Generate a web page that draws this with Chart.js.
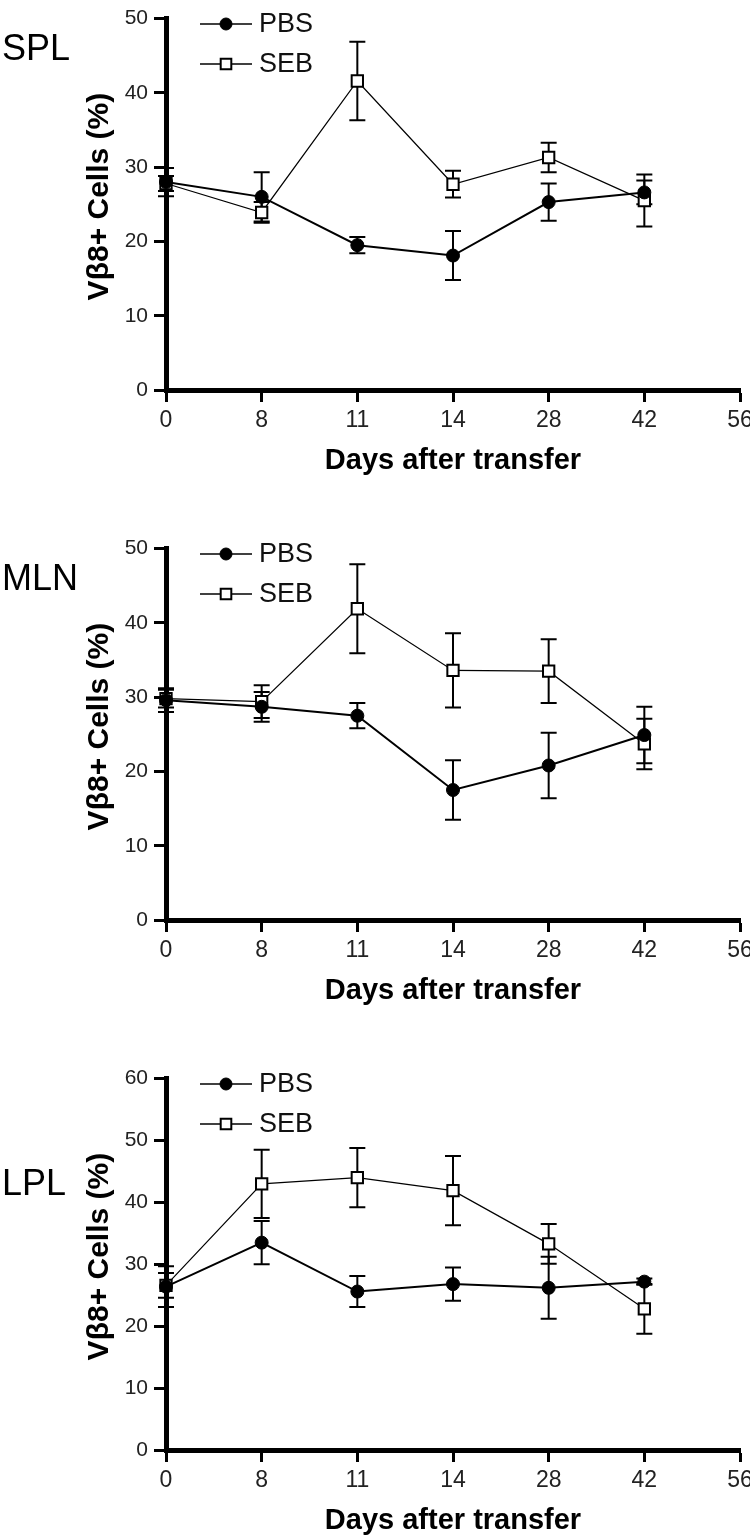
<!DOCTYPE html>
<html>
<head>
<meta charset="utf-8">
<script src="https://cdn.jsdelivr.net/npm/chart.js"></script>
<style>
    body { margin: 0; background: #fff; }
    .wrap { position: relative; width: 750px; height: 1539px; overflow: hidden; }
    canvas { position: absolute; left: 0; }
</style>
</head>
<body>
<div class="wrap">
    <canvas id="chart-1" width="750" height="480" style="top:0px"></canvas>
    <canvas id="chart-2" width="750" height="480" style="top:530px"></canvas>
    <canvas id="chart-3" width="750" height="480" style="top:1060px"></canvas>
</div>
<script>
const days = ['0', '8', '11', '14', '28', '42', '56']

// SPL
const splPbs = [28.0, 26.0, 19.5, 18.1, 25.3, 26.6]
const splPbsErr = [1.9, 3.3, 1.1, 3.3, 2.5, 1.6]
const splSeb = [27.8, 23.9, 41.6, 27.7, 31.3, 25.5]
const splSebErr = [1.0, 1.4, 5.3, 1.8, 2.0, 3.5]

// MLN
const mlnPbs = [29.6, 28.7, 27.5, 17.5, 20.8, 24.9]
const mlnPbsErr = [1.6, 2.0, 1.7, 4.0, 4.4, 3.8]
const mlnSeb = [29.8, 29.4, 41.9, 33.6, 33.5, 23.7]
const mlnSebErr = [1.2, 2.2, 6.0, 5.0, 4.3, 3.4]

// LPL
const lplPbs = [26.4, 33.5, 25.6, 26.8, 26.2, 27.2]
const lplPbsErr = [3.3, 3.5, 2.5, 2.7, 5.0, 0.5]
const lplSeb = [26.6, 43.0, 44.0, 41.9, 33.3, 22.8]
const lplSebErr = [2.0, 5.5, 4.8, 5.6, 3.2, 4.0]

const fontFamily = '"Liberation Sans", Arial, sans-serif'


// ////////////////////////////// error bars, legend, panel label
const errorBarPlugin = {
    id: 'errorBars',
    beforeDatasetsDraw(chart) {
        const ctx = chart.ctx
        const xs = chart.scales.x
        const ys = chart.scales.y
        ctx.save()
        ctx.strokeStyle = '#000'
        ctx.lineWidth = 2
        chart.data.datasets.forEach(ds => {
            ds.data.forEach((v, i) => {
                const e = ds.errors[i]
                const px = xs.getPixelForValue(i)
                const top = ys.getPixelForValue(v + e)
                const bot = ys.getPixelForValue(v - e)
                ctx.beginPath()
                ctx.moveTo(px, top)
                ctx.lineTo(px, bot)
                ctx.moveTo(px - 8, top)
                ctx.lineTo(px + 8, top)
                ctx.moveTo(px - 8, bot)
                ctx.lineTo(px + 8, bot)
                ctx.stroke()
            })
        })
        ctx.restore()
    }
}

const panelPlugin = {
    id: 'panel',
    afterDraw(chart, args, opts) {
        const ctx = chart.ctx
        const area = chart.chartArea
        ctx.save()

        // panel name
        ctx.fillStyle = '#000'
        ctx.font = '36px ' + fontFamily
        ctx.textAlign = 'left'
        ctx.textBaseline = 'alphabetic'
        ctx.fillText(opts.label, 2, opts.labelY)

        // y title
        ctx.save()
        ctx.translate(100, area.top + 178)
        ctx.rotate(-Math.PI / 2)
        ctx.font = 'bold 30px ' + fontFamily
        ctx.textAlign = 'center'
        ctx.textBaseline = 'middle'
        ctx.fillText('Vβ8+ Cells (%)', 0, 0)
        ctx.restore()

        // legend
        chart.data.datasets.forEach((ds, i) => {
            const y = 24 + i * 40
            ctx.strokeStyle = '#000'
            ctx.lineWidth = 1.5
            ctx.beginPath()
            ctx.moveTo(200, y)
            ctx.lineTo(252, y)
            ctx.stroke()
            ctx.fillStyle = ds.pointBackgroundColor
            ctx.strokeStyle = ds.pointBorderColor
            ctx.lineWidth = ds.pointBorderWidth
            Chart.helpers.drawPoint(ctx, {
                pointStyle: ds.pointStyle,
                radius: ds.pointRadius - 0.5,
                rotation: 0,
                borderWidth: ds.pointBorderWidth
            }, 226, y)
            ctx.fillStyle = '#111'
            ctx.font = '27px ' + fontFamily
            ctx.textAlign = 'left'
            ctx.textBaseline = 'middle'
            ctx.fillText(ds.label, 259, y + 1)
        })
        ctx.restore()
    }
}


const makeChart = (id, label, labelY, yMax, pbs, pbsErr, seb, sebErr) => {
    const ctx = document.getElementById(id)
    new Chart(ctx, {
        type: 'line',
        data: {
            labels: days,
            datasets: [{
                label: 'PBS',
                data: pbs,
                errors: pbsErr,
                borderColor: '#000',
                borderWidth: 2,
                pointStyle: 'circle',
                pointRadius: 6.5,
                pointBackgroundColor: '#000',
                pointBorderColor: '#000',
                pointBorderWidth: 1,
                clip: false
            }, {
                label: 'SEB',
                data: seb,
                errors: sebErr,
                borderColor: '#000',
                borderWidth: 1.2,
                pointStyle: 'rect',
                pointRadius: 8,
                pointBackgroundColor: '#fff',
                pointBorderColor: '#000',
                pointBorderWidth: 2,
                clip: false
            }]
        },
        options: {
            responsive: false,
            animation: false,
            events: [],
            layout: { padding: { top: 8, right: 10, bottom: 0, left: 0 } },
            plugins: {
                legend: { display: false },
                tooltip: { enabled: false },
                panel: { label: label, labelY: labelY }
            },
            scales: {
                x: {
                    type: 'category',
                    offset: false,
                    grid: {
                        drawOnChartArea: false,
                        drawTicks: true,
                        tickLength: 12,
                        tickWidth: 3,
                        tickColor: '#000',
                        color: '#000'
                    },
                    border: { display: true, width: 5, color: '#000' },
                    ticks: {
                        color: '#222',
                        font: { size: 23, family: fontFamily },
                        padding: 5,
                        maxRotation: 0,
                        autoSkip: false
                    },
                    title: {
                        display: true,
                        text: 'Days after transfer',
                        color: '#000',
                        font: { size: 29, weight: 'bold', family: fontFamily },
                        padding: { top: 0, bottom: 2 }
                    },
                    afterFit: s => {
                        s.height = 90
                        s.paddingRight = 0
                    }
                },
                y: {
                    min: 0,
                    max: yMax,
                    grid: {
                        drawOnChartArea: false,
                        drawTicks: true,
                        tickLength: 12,
                        tickWidth: 3,
                        tickColor: '#000',
                        color: '#000'
                    },
                    border: { display: true, width: 5, color: '#000' },
                    ticks: {
                        stepSize: 10,
                        color: '#222',
                        font: { size: 21, family: fontFamily },
                        padding: 6
                    },
                    afterFit: s => { s.width = 166 }
                }
            }
        },
        plugins: [errorBarPlugin, panelPlugin]
    })
}

makeChart('chart-1', 'SPL', 60, 50, splPbs, splPbsErr, splSeb, splSebErr)
makeChart('chart-2', 'MLN', 60, 50, mlnPbs, mlnPbsErr, mlnSeb, mlnSebErr)
makeChart('chart-3', 'LPL', 135, 60, lplPbs, lplPbsErr, lplSeb, lplSebErr)
</script>
</body>
</html>
